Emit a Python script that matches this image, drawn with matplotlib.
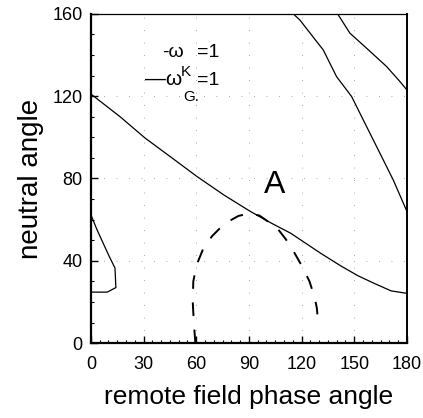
import numpy as np
import matplotlib
matplotlib.use('Agg')
import matplotlib.pyplot as plt

plt.rcParams['font.family'] = ['Liberation Sans', 'DejaVu Sans']

# omega_G = 1 contours (solid)
main_x = [0, 16.6, 30.9, 45.2, 60.5, 75.7, 91, 103, 113.8, 119.6, 131, 142.4, 152, 161.5, 171, 180]
main_y = [121, 110, 99.6, 90.6, 80.9, 72, 63.9, 58.2, 53.4, 50.1, 43.6, 37.5, 32.8, 29, 25.4, 24.2]

upper1_x = [115.2, 119, 128.5, 132.3, 139.9, 148.5, 155.1, 164.6, 172.2, 180]
upper1_y = [160, 157, 146.6, 142.5, 129.5, 119.8, 108.5, 92.3, 79.3, 64]

upper2_x = [140.5, 147.5, 157, 168.4, 176, 180]
upper2_y = [160, 150.6, 143.3, 134.4, 127.1, 123]

left_x = [0, 3.5, 7, 10.5, 13.7, 14.2, 9.3, 0]
left_y = [62.3, 55, 48.5, 42, 36.5, 27, 24.8, 24.8]

# omega_G^K = 1 contour (dashed)
dash_x = [59.5, 58.6, 58.0, 58.3, 60.2, 64, 69, 76, 84, 90, 96, 101, 106, 111, 115.5, 120.5, 124.5, 127.5, 128.7, 129]
dash_y = [0, 10, 20, 30, 38, 46, 52, 58, 61.8, 63, 62, 59, 56, 50.5, 44.5, 37, 30, 22, 17, 14]

xticks = [0, 30, 60, 90, 120, 150, 180]
yticks = [0, 40, 80, 120, 160]

fig = plt.figure(figsize=(4.23, 4.18), dpi=100)
ax = fig.add_axes([0.215, 0.179, 0.747, 0.788])

# sparse dotted reference lines
for gx in xticks[1:-1]:
    ax.plot([gx, gx], [0, 160], color='0.55', lw=0.6, ls=(0, (1, 14)), zorder=0)
for gy in yticks[1:-1]:
    ax.plot([0, 180], [gy, gy], color='0.55', lw=0.6, ls=(0, (1, 14)), zorder=0)

for xs, ys in [(main_x, main_y), (upper1_x, upper1_y), (upper2_x, upper2_y), (left_x, left_y)]:
    ax.plot(xs, ys, color='black', lw=0.9)
ax.plot(dash_x, dash_y, color='black', lw=1.4, ls=(0, (7, 7)))

ax.text(104.8, 77, 'A', fontsize=23, ha='center', va='center')

# key
key = dict(transform=ax.transAxes, ha='left', va='baseline')
ax.text(0.225, 0.869, '-ω', fontsize=14, **key)
ax.text(0.335, 0.869, '=1', fontsize=14, **key)
ax.text(0.172, 0.784, '—ω', fontsize=15, **key)
ax.text(0.285, 0.812, 'K', fontsize=11, **key)
ax.text(0.335, 0.784, '=1', fontsize=14, **key)
ax.text(0.291, 0.736, 'G.', fontsize=11, **key)

ax.set_xlim(0, 180)
ax.set_ylim(0, 160)
ax.set_xticks(xticks)
ax.set_yticks(yticks)
ax.set_xticks(np.arange(0, 181, 5), minor=True)
ax.set_yticks(np.arange(0, 161, 10), minor=True)
ax.tick_params(which='major', direction='in', length=5, width=1, labelsize=13)
ax.tick_params(axis='x', which='major', pad=9)
ax.tick_params(axis='y', which='major', pad=6)
ax.tick_params(which='minor', direction='in', length=2.5, width=0.8)

ax.spines['left'].set_linewidth(1.6)
ax.spines['bottom'].set_linewidth(1.6)
ax.spines['right'].set_linewidth(1.4)
ax.spines['top'].set_linewidth(0.9)

ax.set_xlabel('remote field phase angle', fontsize=19, labelpad=9)
ax.set_ylabel('neutral angle', fontsize=20, labelpad=6)

fig.savefig('out.png', dpi=100)
